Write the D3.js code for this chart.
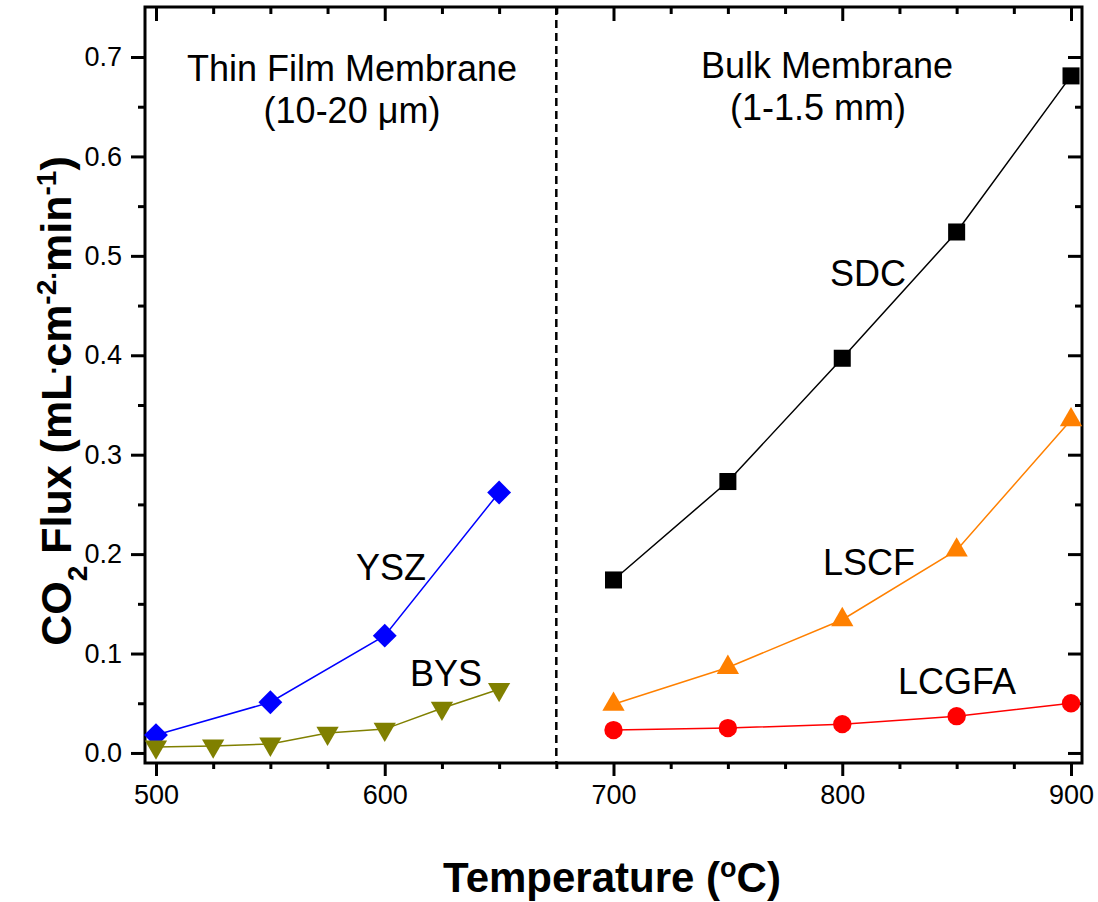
<!DOCTYPE html>
<html>
<head>
<meta charset="utf-8">
<script src="https://cdn.jsdelivr.net/npm/d3@7"></script>
<style>
  body { margin: 0; background: #fff; }
  text { font-family: "Liberation Sans", Arial, sans-serif; }
</style>
</head>
<body>
<div id="chart"></div>
<script>
// thin film membranes
var yszTemp = [500, 550, 600, 650];
var yszFlux = [0.018, 0.051, 0.118, 0.262];
var bysTemp = [500, 525, 550, 575, 600, 625, 650];
var bysFlux = [0.006, 0.007, 0.009, 0.020, 0.024, 0.045, 0.064];

// bulk membranes
var bulkTemp = [700, 750, 800, 850, 900];
var sdcFlux = [0.174, 0.273, 0.397, 0.524, 0.681];
var lscfFlux = [0.049, 0.086, 0.134, 0.204, 0.335];
var lcgfaFlux = [0.023, 0.025, 0.029, 0.037, 0.050];

var xTicks = [500, 600, 700, 800, 900];
var yTicks = [0.0, 0.1, 0.2, 0.3, 0.4, 0.5, 0.6, 0.7];
var dividerTemp = 675;

function zip(xs, ys) {
  return xs.map(function (x, i) { return { x: x, y: ys[i] }; });
}

var series = [
  { name: 'YSZ', data: zip(yszTemp, yszFlux), color: '#0000ff', shape: 'diamond', label: [391, 580] },
  { name: 'BYS', data: zip(bysTemp, bysFlux), color: '#808000', shape: 'down', label: [446, 686] },
  { name: 'SDC', data: zip(bulkTemp, sdcFlux), color: '#000000', shape: 'square', label: [868, 286] },
  { name: 'LSCF', data: zip(bulkTemp, lscfFlux), color: '#ff8000', shape: 'up', label: [869, 575] },
  { name: 'LCGFA', data: zip(bulkTemp, lcgfaFlux), color: '#ff0000', shape: 'circle', label: [957, 694] }
];

var width = 1098, height = 902;
var margin = { top: 7, right: 16, bottom: 139, left: 145 };

var x = d3.scaleLinear()
  .domain([495.2, 904.8])
  .range([margin.left, width - margin.right]);

var y = d3.scaleLinear()
  .domain([-0.0101, 0.7503])
  .range([height - margin.bottom, margin.top]);

var svg = d3.select('#chart').append('svg')
  .attr('width', width)
  .attr('height', height);

function symbolPath(shape) {
  var sym = d3.symbol();
  if (shape === 'square') return sym.type(d3.symbolSquare).size(290)();
  if (shape === 'diamond') return sym.type(d3.symbolSquare).size(285)();
  if (shape === 'circle') return sym.type(d3.symbolCircle).size(265)();
  return sym.type(d3.symbolTriangle).size(215)();
}

function symbolRotate(shape) {
  if (shape === 'diamond') return 45;
  if (shape === 'down') return 180;
  return 0;
}

// Axes
var minorX = d3.range(500, 901, 25).filter(function (d) { return d % 100 !== 0; });
var minorY = d3.range(0.05, 0.75, 0.1);

svg.append('g')
  .attr('transform', 'translate(0,' + (height - margin.bottom) + ')')
  .call(d3.axisBottom(x).tickValues(xTicks).tickSize(13).tickPadding(9).tickFormat(d3.format('d')));

svg.append('g')
  .attr('transform', 'translate(0,' + (height - margin.bottom) + ')')
  .call(d3.axisBottom(x).tickValues(minorX).tickSize(6).tickFormat(''));

svg.append('g')
  .attr('transform', 'translate(0,' + margin.top + ')')
  .call(d3.axisBottom(x).tickValues(xTicks).tickSize(14).tickFormat(''));

svg.append('g')
  .attr('transform', 'translate(0,' + margin.top + ')')
  .call(d3.axisBottom(x).tickValues(minorX).tickSize(7).tickFormat(''));

svg.append('g')
  .attr('transform', 'translate(' + margin.left + ',0)')
  .call(d3.axisLeft(y).tickValues(yTicks).tickSize(14).tickPadding(9).tickFormat(d3.format('.1f')));

svg.append('g')
  .attr('transform', 'translate(' + margin.left + ',0)')
  .call(d3.axisLeft(y).tickValues(minorY).tickSize(7).tickFormat(''));

svg.append('g')
  .attr('transform', 'translate(' + (width - margin.right) + ',0)')
  .call(d3.axisLeft(y).tickValues(yTicks).tickSize(14).tickFormat(''));

svg.append('g')
  .attr('transform', 'translate(' + (width - margin.right) + ',0)')
  .call(d3.axisLeft(y).tickValues(minorY).tickSize(7).tickFormat(''));

// the frame below draws the axis lines
svg.selectAll('.domain').remove();

svg.selectAll('.tick line')
  .attr('stroke', '#000')
  .attr('stroke-width', 3);

svg.selectAll('.tick text')
  .attr('font-size', 27)
  .attr('fill', '#000');

svg.append('rect')
  .attr('x', margin.left)
  .attr('y', margin.top)
  .attr('width', width - margin.left - margin.right)
  .attr('height', height - margin.top - margin.bottom)
  .attr('fill', 'none')
  .attr('stroke', '#000')
  .attr('stroke-width', 3);

// Divider between thin film and bulk
svg.append('line')
  .attr('x1', x(dividerTemp))
  .attr('x2', x(dividerTemp))
  .attr('y1', margin.top)
  .attr('y2', height - margin.bottom)
  .attr('stroke', '#000')
  .attr('stroke-width', 2.5)
  .attr('stroke-dasharray', '8,5');

// Series
var line = d3.line()
  .x(function (d) { return x(d.x); })
  .y(function (d) { return y(d.y); });

series.forEach(function (s) {
  var g = svg.append('g');

  g.append('path')
    .datum(s.data)
    .attr('d', line)
    .attr('fill', 'none')
    .attr('stroke', s.color)
    .attr('stroke-width', 1.5);

  g.selectAll('path.marker')
    .data(s.data)
    .enter()
    .append('path')
    .attr('class', 'marker')
    .attr('d', symbolPath(s.shape))
    .attr('transform', function (d) {
      return 'translate(' + x(d.x) + ',' + y(d.y) + ') rotate(' + symbolRotate(s.shape) + ')';
    })
    .attr('fill', s.color);

  svg.append('text')
    .attr('x', s.label[0])
    .attr('y', s.label[1])
    .attr('text-anchor', 'middle')
    .attr('font-size', 36)
    .text(s.name);
});

// Region captions
var captions = [
  { text: 'Thin Film Membrane', cx: 352, y: 81 },
  { text: '(10-20 \u03bcm)', cx: 352, y: 123 },
  { text: 'Bulk Membrane', cx: 827, y: 78 },
  { text: '(1-1.5 mm)', cx: 818, y: 120 }
];

captions.forEach(function (c) {
  svg.append('text')
    .attr('x', c.cx)
    .attr('y', c.y)
    .attr('text-anchor', 'middle')
    .attr('font-size', 36)
    .text(c.text);
});

// Axis titles
var xt = svg.append('text')
  .attr('x', 612)
  .attr('y', 892)
  .attr('text-anchor', 'middle')
  .attr('font-size', 42)
  .attr('font-weight', 'bold')
  .text('Temperature (');
xt.append('tspan').attr('baseline-shift', 'super').attr('font-size', 27).text('o');
xt.append('tspan').text('C)');

var yt = svg.append('text')
  .attr('transform', 'translate(71,401) rotate(-90)')
  .attr('text-anchor', 'middle')
  .attr('font-size', 43)
  .attr('font-weight', 'bold');
yt.append('tspan').text('CO');
yt.append('tspan').attr('baseline-shift', 'sub').attr('font-size', 28).text('2');
yt.append('tspan').text(' Flux (mL');
yt.append('tspan').attr('baseline-shift', 'super').attr('font-size', 28).text('.');
yt.append('tspan').text('cm');
yt.append('tspan').attr('baseline-shift', 'super').attr('font-size', 28).text('-2.');
yt.append('tspan').text('min');
yt.append('tspan').attr('baseline-shift', 'super').attr('font-size', 28).text('-1');
yt.append('tspan').text(')');
</script>
</body>
</html>
